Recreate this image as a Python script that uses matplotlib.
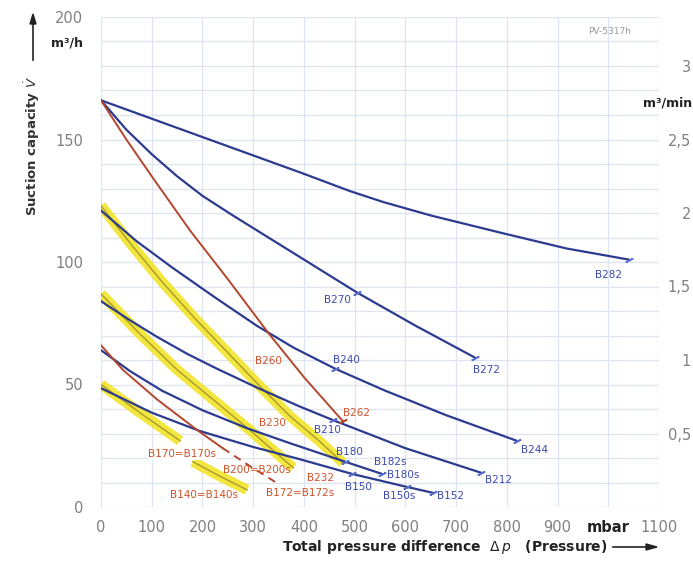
import numpy as np
import matplotlib.pyplot as plt

# curves: pressure difference [mbar], suction capacity [m3/h]
b282_p = [0, 100, 200, 300, 400, 490, 556, 650, 787, 918, 1040]
b282_v = [166, 158.5, 151, 143.5, 136, 129, 124.5, 119, 112, 105.5, 101]

b270_p = [0, 50, 100, 150, 200, 260, 330, 400, 505, 620, 737]
b270_v = [166, 154, 144, 135, 127, 119, 110, 101, 87.5, 74, 61]

b260_p = [0, 50, 100, 175, 250, 330, 400, 477]
b260_v = [166, 150, 135, 113, 93, 71, 53, 35]

b240_p = [0, 70, 142, 225, 307, 380, 461, 560, 680, 820]
b240_v = [121, 108.5, 97.5, 85.5, 74, 65, 56.5, 47.5, 37.5, 27]

b230_p = [0, 60, 120, 185, 250, 310, 373, 430, 477]
b230_v = [123, 107, 92, 77, 63, 50, 37, 27, 18]

b210_p = [0, 55, 110, 170, 228, 310, 392, 457, 600, 749]
b210_v = [84, 76.5, 69.5, 62.5, 56.5, 48.5, 41, 35.5, 24, 14]

b200_p = [0, 75, 150, 220, 290, 379]
b200_v = [87, 71, 56, 44, 32, 16]

b180_p = [0, 57, 120, 200, 290, 373, 481, 554]
b180_v = [64, 55.5, 47.5, 39.5, 32, 26, 18.5, 13.5]

b150_p = [0, 100, 195, 300, 392, 495, 603, 654]
b150_v = [48.5, 38.5, 31, 24.5, 19.5, 13.5, 8.2, 5.8]

b170_p = [0, 43, 110, 189, 240]
b170_v = [66, 56, 44, 31.5, 24]
b172_p = [240, 295, 353]
b172_v = [24, 16.5, 9]

b140a_p = [0, 80, 156]
b140a_v = [50, 38, 27]
b140b_p = [181, 235, 288]
b140b_v = [18.5, 12.5, 7]

# end / intermediate marks
blue_marks_p = [1040, 505, 737, 461, 820, 457, 749, 481, 554, 495, 603, 654]
blue_marks_v = [101, 87.5, 61, 56.5, 27, 35.5, 14, 18.5, 13.5, 13.5, 8.2, 5.8]
red_marks_p = [477]
red_marks_v = [35]

# curve labels (text, position in picture pixels, colour key)
lab_text = ["B282", "B270", "B272", "B240", "B244", "B212", "B210", "B180", "B182s",
            "B180s", "B150", "B150s", "B152",
            "B262", "B260", "B230", "B232", "B200=B200s", "B170=B170s", "B172=B172s",
            "B140=B140s"]
lab_px = [609, 337, 486, 346, 535, 499, 327, 349, 390, 403, 358, 399, 451,
          357, 268, 272, 321, 257, 182, 300, 204]
lab_py = [275, 300, 370, 360, 450, 480, 430, 452, 462, 475, 487, 496, 496,
          413, 361, 423, 478, 470, 454, 493, 495]
lab_col = ["b"] * 13 + ["r"] * 8

BLUE = "#2c3b8f"
RED = "#b4462c"
YEL = "#f1e20f"
LBLUE = "#3b4aae"
LRED = "#d2532b"

fig = plt.figure(figsize=(6.93, 5.62), dpi=100)
L, R, B, T = 101, 659, 507, 17
ax = fig.add_axes([L / 693, 1 - B / 562, (R - L) / 693, (B - T) / 562])
ax.set_xlim(0, 1100)
ax.set_ylim(0, 200)

ax.set_xticks(np.arange(0, 1101, 100))
ax.set_yticks(np.arange(0, 201, 10), minor=True)
ax.set_yticks([0, 50, 100, 150, 200])
ax.grid(True, which="both", color="#dfe5ef", lw=0.9)
ax.set_axisbelow(True)
for s in ax.spines.values():
    s.set_visible(False)
ax.tick_params(which="both", length=0)
ax.tick_params(axis="x", pad=9, labelsize=10.5, labelcolor="#808080")
ax.tick_params(axis="y", pad=13, labelsize=10.5, labelcolor="#808080")
xl = [str(v) for v in range(0, 1101, 100)]
xl[10] = "mbar"
ax.set_xticklabels(xl)
ax.get_xticklabels()[10].set_fontweight("bold")
ax.get_xticklabels()[10].set_color("#222222")


def yellow(p, v):
    ax.plot(p, v, color=YEL, lw=7.5, alpha=0.8, solid_capstyle="butt", zorder=2)
    ax.plot(p, v, color="#a89a2a", lw=1.0, zorder=3)


yellow(b230_p, b230_v)
yellow(b200_p, b200_v)
yellow(b140a_p, b140a_v)
yellow(b140b_p, b140b_v)

for p, v in [(b282_p, b282_v), (b270_p, b270_v), (b240_p, b240_v),
             (b210_p, b210_v), (b180_p, b180_v), (b150_p, b150_v)]:
    ax.plot(p, v, color=BLUE, lw=1.6, zorder=4)
ax.plot(b260_p, b260_v, color=RED, lw=1.4, zorder=4)
ax.plot(b170_p, b170_v, color=RED, lw=1.4, zorder=4)
ax.plot(b172_p, b172_v, color=RED, lw=1.4, ls=(0, (4, 3)), zorder=4)

# little ticks across the lines at end points
sx, sy = (R - L) / 1100, (B - T) / 200
for p, v, c in [(blue_marks_p, blue_marks_v, "#5a6fd0"), (red_marks_p, red_marks_v, RED)]:
    for xi, yi in zip(p, v):
        ax.plot(xi, yi, marker=(2, 2, -62), ms=6, mec=c, mew=1.2, zorder=5)

for t, px, py, c in zip(lab_text, lab_px, lab_py, lab_col):
    bb = dict(fc="white", ec="none", pad=0.4) if t == "B170=B170s" else None
    ax.text((px - L) / sx, (B - py) / sy, t, ha="center", va="center",
            fontsize=7.5, color=LBLUE if c == "b" else LRED, zorder=6, bbox=bb)

# right axis in m3/min
ax2 = ax.twinx()
ax2.set_ylim(0, 200 / 60)
ax2.set_yticks([0.5, 1, 1.5, 2, 2.5, 3])
ax2.set_yticklabels(["0,5", "1", "1,5", "2", "2,5", "3"])
for s in ax2.spines.values():
    s.set_visible(False)
ax2.tick_params(length=0, pad=23, labelsize=10.5, labelcolor="#808080")
for lbl in ax2.get_yticklabels():
    lbl.set_horizontalalignment("right")


def fx(x):
    return x / 693


def fy(y):
    return 1 - y / 562


fig.text(fx(692), fy(103), "m³/min", ha="right", va="center", fontsize=9,
         fontweight="bold", color="#222222")
fig.text(fx(83), fy(43), "m³/h", ha="right", va="center", fontsize=9,
         fontweight="bold", color="#222222")
fig.text(fx(32), fy(146), r"Suction capacity $\dot{V}$", rotation=90, ha="center",
         va="center", fontsize=9.5, fontweight="bold", color="#333333")
fig.add_artist(plt.Line2D([fx(33), fx(33)], [fy(60), fy(20)], color="#222222", lw=1.2))
fig.add_artist(plt.Polygon([[fx(30), fy(24)], [fx(36), fy(24)], [fx(33), fy(14)]],
                           closed=True, color="#222222"))
fig.text(fx(607), fy(547), r"Total pressure difference  $\Delta\,\mathit{p}$   (Pressure)",
         ha="right", va="center", fontsize=10, fontweight="bold", color="#222222")
fig.add_artist(plt.Line2D([fx(613), fx(650)], [fy(547), fy(547)], color="#222222", lw=1.2))
fig.add_artist(plt.Polygon([[fx(646), fy(544)], [fx(646), fy(550)], [fx(657), fy(547)]],
                           closed=True, color="#222222"))
fig.text(fx(610), fy(32), "PV-5317h", ha="center", va="center", fontsize=6.5,
         color="#999999")

fig.savefig("out.png", dpi=100)
